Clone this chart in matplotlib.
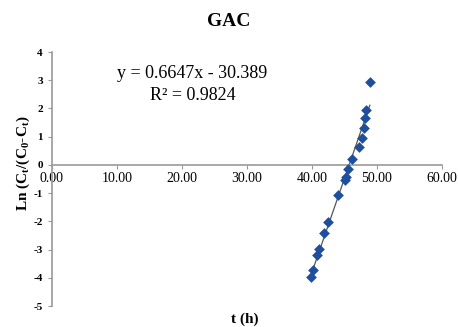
import matplotlib
matplotlib.use("Agg")
import matplotlib.pyplot as plt
import numpy as np

# Data
t_h = [39.9, 40.2, 40.7, 41.0, 41.9, 42.5, 44.0, 45.0, 45.3, 45.6,
       46.1, 47.3, 47.7, 48.0, 48.1, 48.3, 48.9]
ln_ratio = [-3.96, -3.72, -3.19, -2.99, -2.42, -2.01, -1.06, -0.53, -0.44, -0.15,
            0.20, 0.63, 0.95, 1.30, 1.66, 1.95, 2.92]
slope, intercept = 0.6647, -30.389
r2 = 0.9824

x_ticks = [0, 10, 20, 30, 40, 50, 60]
y_ticks = [-5, -4, -3, -2, -1, 0, 1, 2, 3, 4]

plt.rcParams["font.family"] = ["Liberation Serif", "DejaVu Serif"]
plt.rcParams["mathtext.fontset"] = "custom"
plt.rcParams["mathtext.rm"] = "Liberation Serif"
plt.rcParams["mathtext.bf"] = "Liberation Serif:bold"

fig = plt.figure(figsize=(4.58, 3.27), dpi=100)
ax = fig.add_axes([52 / 458, 21 / 327, 390 / 458, 254 / 327])

ax.scatter(t_h, ln_ratio, marker="D", s=30, color="#1F4E9C", zorder=3, linewidths=0)
x_fit = np.array([min(t_h), max(t_h)])
ax.plot(x_fit, slope * x_fit + intercept, color="#555555", linewidth=0.9, zorder=2)

ax.set_xlim(0, 60)
ax.set_ylim(-5, 4)
ax.set_xticks(x_ticks)
ax.set_xticklabels([f"{v:.2f}" for v in x_ticks], fontsize=8)
ax.set_yticks(y_ticks)
ax.set_yticklabels([str(v) for v in y_ticks], fontsize=8, fontweight="bold")

ax.spines["top"].set_visible(False)
ax.spines["right"].set_visible(False)
ax.spines["bottom"].set_position(("data", 0))
for s in ("left", "bottom"):
    ax.spines[s].set_color("#9a9a9a")
    ax.spines[s].set_linewidth(1.2)
ax.tick_params(axis="both", colors="#9a9a9a", length=3, labelcolor="black")
ax.tick_params(axis="x", pad=2)

ax.text(0.36, 0.915, f"y = {slope}x - {abs(intercept)}", transform=ax.transAxes,
        ha="center", va="center", fontsize=13)
ax.text(0.36, 0.83, f"R² = {r2}", transform=ax.transAxes,
        ha="center", va="center", fontsize=13)

fig.text(0.5, 0.935, "GAC", ha="center", va="center", fontsize=14, fontweight="bold")
fig.text(0.535, 0.025, "t (h)", ha="center", va="center", fontsize=11, fontweight="bold")
fig.text(0.05, 0.5, r"Ln (C$_\mathbf{t}$/(C$_\mathbf{0}$-C$_\mathbf{t}$)", rotation=90,
         ha="center", va="center", fontsize=11, fontweight="bold")

fig.savefig("out.png", dpi=100)
